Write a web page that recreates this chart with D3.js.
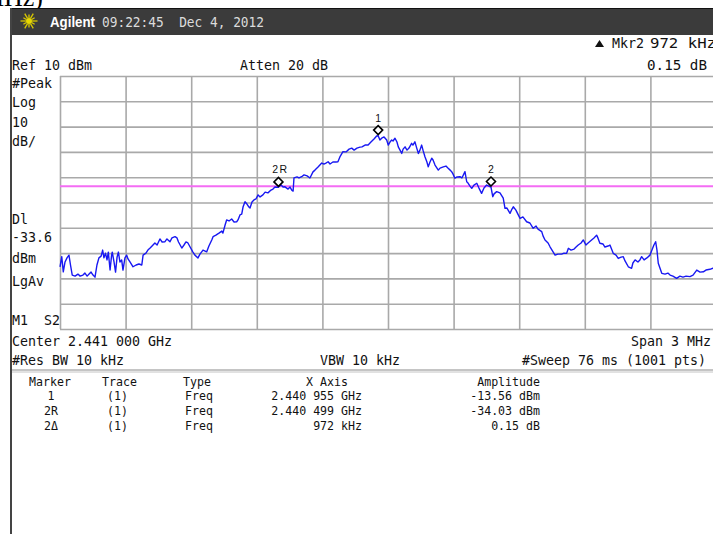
<!DOCTYPE html>
<html><head><meta charset="utf-8">
<script src="https://cdn.jsdelivr.net/npm/d3@7"></script>
<style>
html,body{margin:0;padding:0;background:#fff;overflow:hidden}
svg{display:block}
text{font-family:"DejaVu Sans Mono",monospace;white-space:pre}
</style></head><body>
<svg id="c" width="713" height="534"></svg>
<script>
// ---- data (frequency offset from centre in kHz, amplitude in dBm) ----
const centerGHz = 2.441, spanKHz = 3000, refLevel = 10, dbPerDiv = 10, displayLine = -33.6;
const traceFreq = [-1500,-1492,-1485,-1477,-1468,-1459,-1452,-1444,-1431,-1418,-1408,-1395,-1386,-1376,-1367,-1358,-1349,-1340,-1331,-1322,-1312,-1305,-1299,-1292,-1285,-1279,-1271,-1264,-1261,-1253,-1246,-1239,-1233,-1226,-1218,-1212,-1203,-1195,-1189,-1180,-1166,-1152,-1139,-1126,-1120,-1107,-1098,-1088,-1079,-1066,-1056,-1043,-1033,-1020,-1011,-997,-988,-974,-965,-958,-943,-933,-924,-915,-905,-892,-883,-869,-860,-846,
-829,-819,-806,-800,-787,-773,-760,-755,-745,-738,-727,-715,-704,-692,-686,-677,-669,-663,-654,-645,-636,-631,-622,-613,-604,-594,-585,-572,-562,-549,-535,-526,-517,-503,-489,-480,-471,-457,-448,-440,-434,-430,-416,-407,-395,-384,-370,-357,-343,-334,-320,-303,-293,-284,-274,-265,-252,-238,-229,-220,-206,-192,-178,-166,-155,-142,-128,-119,-105,-91,-78,-64,-52,-45,
-37,-29,-18,-6,1,9,17,23,32,41,47,55,63,69,78,87,96,108,114,123,130,139,146,154,160,169,178,184,192,200,206,215,224,230,238,253,265,274,284,291,297,306,316,329,338,352,360,366,375,383,393,406,416,428,439,451,471,479,485,497,512,527,535,544,558,567,573,585,594,604,617,634,649,664,677,686,703,709,718,732,741,750,764,777,794,805,817,825,837,851,860,870,883,893,905,915,931,942,954,960,969,983,992,1006,1015,1030,1043,1053,1066,1076,1084,1099,1114,1120,1130,1143,1152,1160,1171,1184,1198,1207,1216,1224,1230,1236,1252,1267,1280,1290,1303,1320,1335,1349,1363,1381,1395,1412,1427,1442,1454,1472,1486,1500];
const traceDbm = [-65.4,-61.4,-67.4,-63.5,-61.9,-60.8,-64.7,-68.7,-69.1,-68.3,-69.1,-68.7,-67.9,-69.1,-68.3,-67.5,-68.7,-69.5,-64.7,-61.9,-61.2,-58.8,-61.9,-60.0,-62.7,-59.6,-66.7,-60.8,-59.6,-63.5,-67.5,-61.6,-59.6,-63.5,-62.7,-66.7,-61.9,-60.8,-62.3,-63.5,-65.4,-64.7,-64.3,-64.7,-60.8,-60.0,-58.8,-58.0,-57.2,-56.0,-56.8,-54.4,-55.6,-55.5,-54.4,-55.5,-54.0,-53.5,-54.0,-55.6,-58.0,-56.8,-55.6,-56.0,-57.6,-59.6,-60.8,-61.9,-60.4,-58.8,
-59.5,-57.2,-54.8,-53.5,-52.9,-52.1,-51.3,-52.1,-48.9,-46.9,-47.3,-46.5,-47.7,-47.6,-46.9,-44.9,-44.6,-41.8,-39.7,-40.6,-41.8,-42.2,-39.8,-39.0,-38.6,-37.0,-37.8,-37.0,-35.9,-36.2,-35.1,-34.7,-33.9,-34.0,-33.1,-33.9,-33.8,-34.7,-33.9,-35.1,-35.5,-30.3,-29.9,-30.3,-29.8,-29.1,-29.5,-30.3,-27.9,-27.2,-26.0,-24.4,-24.8,-24.4,-23.9,-24.8,-24.0,-24.0,-23.9,-22.0,-19.9,-20.0,-18.9,-18.5,-19.3,-18.5,-18.1,-18.0,-17.3,-17.3,-16.1,-14.9,-13.7,-13.6,
-15.3,-14.6,-14.1,-15.3,-17.3,-16.1,-15.3,-15.7,-14.6,-16.1,-18.0,-19.3,-20.6,-18.9,-18.0,-19.3,-18.5,-16.6,-17.3,-16.0,-18.1,-20.6,-19.3,-17.3,-19.3,-21.9,-24.0,-25.9,-24.0,-22.5,-23.2,-25.2,-26.4,-27.2,-26.4,-25.9,-25.6,-26.4,-27.2,-27.8,-28.7,-30.4,-29.9,-29.8,-30.3,-27.8,-31.8,-32.3,-33.5,-34.4,-33.1,-32.4,-34.3,-36.4,-34.3,-33.1,-33.9,-37.7,-36.6,-35.7,-36.2,-38.3,-42.3,-42.2,-44.3,-42.6,-41.7,-43.0,-44.6,-46.3,-45.7,-47.6,-48.1,-50.2,-49.3,-50.5,-51.5,-53.2,-54.8,-56.0,-57.5,-58.8,-60.8,-60.4,-60.4,-60.0,-60.1,-58.1,-58.8,-58.4,-57.6,-56.8,-56.0,-54.8,-56.8,-56.0,-54.8,-54.0,-52.9,-54.0,-56.1,-56.4,-57.6,-57.2,-56.8,-60.1,-60.8,-62.1,-61.6,-61.4,-63.1,-65.4,-66.0,-63.9,-62.7,-63.5,-62.7,-61.4,-62.7,-61.9,-60.8,-58.8,-56.8,-55.5,-58.8,-64.0,-68.0,-68.3,-67.9,-68.7,-69.1,-70.0,-69.1,-69.5,-69.1,-69.3,-68.7,-66.7,-67.5,-67.4,-66.7,-66.4,-66.0,-65.9];
const markerNames = ["1","2R","2"];
const markerFreq = [-45,-501,471];
const markerDbm = [-13.56,-34.03,-33.88];
const leftLabels = ["#Peak","Log","10","dB/","Dl","-33.6","dBm","LgAv","M1  S2"];
const tableHeader = ["Marker","Trace","Type","X Axis","Amplitude"];
const tableRows = [
  ["1","(1)","Freq","2.440 955 GHz","-13.56 dBm"],
  ["2R","(1)","Freq","2.440 499 GHz","-34.03 dBm"],
  ["2\u0394","(1)","Freq","972 kHz","0.15 dB"]
];

const svg = d3.select("#c");
const x = d3.scaleLinear().domain([-spanKHz/2, spanKHz/2]).range([60, 716]);
const y = d3.scaleLinear().domain([refLevel - 10*dbPerDiv, refLevel]).range([329, 76]);

// caption fragment at very top (clipped in the original too)
svg.append("text").attr("x", 43).attr("y", 6).attr("text-anchor","end")
  .style("font-family","'Liberation Serif',serif").style("font-size","26px").text("(MHz)");

// header bar
svg.append("rect").attr("x",10).attr("y",8).attr("width",720).attr("height",27).attr("fill","#3b3b3b");
svg.append("line").attr("x1",10).attr("x2",713).attr("y1",8.5).attr("y2",8.5).attr("stroke","#111").attr("stroke-width",1);
// left frame line
svg.append("line").attr("x1",11).attr("x2",11).attr("y1",8).attr("y2",534).attr("stroke","#444").attr("stroke-width",2);
// star icon
const star = svg.append("g").attr("transform","translate(29,21)");
d3.range(12).forEach(i=>{
  const a = i*Math.PI/6, r1 = 3, r2 = (i%2? 6.5 : 8.5);
  star.append("line").attr("x1",r1*Math.cos(a)).attr("y1",r1*Math.sin(a))
    .attr("x2",r2*Math.cos(a)).attr("y2",r2*Math.sin(a)).attr("stroke","#d8c800").attr("stroke-width",1.3);
});
star.append("circle").attr("r",3).attr("fill","#e8d800");
svg.append("text").attr("x",50).attr("y",27).attr("fill","#fff")
  .style("font-family","'Liberation Sans',Arial,sans-serif").style("font-weight","bold").style("font-size","15px")
  .attr("textLength",45).attr("lengthAdjust","spacingAndGlyphs").text("Agilent");
svg.append("text").attr("x",102).attr("y",27).attr("fill","#dcdcdc").style("font-size","14px")
  .attr("textLength",162).attr("lengthAdjust","spacingAndGlyphs").text("09:22:45  Dec 4, 2012");

const fs = "13.3px";
function t(xx, yy, s, anchor, size){ return svg.append("text").attr("x",xx).attr("y",yy).attr("text-anchor",anchor||"start").style("font-size",size||fs).attr("fill","#111").text(s); }

// top info
svg.append("path").attr("d","M595,47 L599.5,40 L604,47 Z").attr("fill","#111");
t(612,48,"Mkr2");
t(650,48,"972 kHz").attr("textLength",66).attr("lengthAdjust","spacingAndGlyphs");
t(647,70,"0.15 dB").attr("textLength",60).attr("lengthAdjust","spacingAndGlyphs");
t(12,70,"Ref 10 dBm");
t(240,70,"Atten 20 dB");

// left labels
const leftY = [88,107,127,146,224,242,263,286,325];
leftLabels.forEach((s,i)=>t(12,leftY[i],s));

// grid
const gx = svg.append("g").attr("transform","translate(0,329)")
  .call(d3.axisBottom(x).tickValues(d3.range(-1500,1501,300)).tickSize(-253).tickFormat(""));
const gy = svg.append("g").attr("transform","translate(60,0)")
  .call(d3.axisLeft(y).tickValues(d3.range(-90,11,10)).tickSize(-660).tickFormat(""));
[gx,gy].forEach(g=>{ g.select(".domain").remove(); g.selectAll("line").attr("stroke","#a9a9a9").attr("stroke-width",1.6); });

// display line
svg.append("line").attr("x1",60).attr("x2",716).attr("y1",y(displayLine)).attr("y2",y(displayLine))
  .attr("stroke","#f46cf4").attr("stroke-width",2);

// trace
const pts = traceFreq.map((f,i)=>[f,traceDbm[i]]);
svg.append("path").datum(pts)
  .attr("d", d3.line().x(d=>x(d[0])).y(d=>y(d[1])))
  .attr("fill","none").attr("stroke","#1818f2").attr("stroke-width",1.4).attr("stroke-linejoin","round");

// markers
markerNames.forEach((m,i)=>{
  const mx = x(markerFreq[i]), my = y(markerDbm[i]);
  svg.append("path").attr("d",`M${mx},${my-1} L${mx+4.5},${my-5.5} L${mx},${my-10} L${mx-4.5},${my-5.5} Z`)
    .attr("fill","#fff").attr("stroke","#000").attr("stroke-width",1.6);
  svg.append("text").attr("x",mx + (m==="2R"?2:0)).attr("y",my-14).attr("text-anchor","middle")
    .style("font-family","'Liberation Sans',Arial,sans-serif").style("font-size","10.5px").attr("fill","#111")
    .attr("letter-spacing", m==="2R"?"1.5px":"0").text(m);
});

// bottom info
t(12,346,"Center 2.441 000 GHz");
t(711,346,"Span 3 MHz","end");
t(12,365,"#Res BW 10 kHz");
t(320,365,"VBW 10 kHz");
t(706,365,"#Sweep 76 ms (1001 pts)","end");
svg.append("line").attr("x1",12).attr("x2",713).attr("y1",370).attr("y2",370).attr("stroke","#8a8a8a").attr("stroke-width",1);
svg.append("line").attr("x1",12).attr("x2",713).attr("y1",372).attr("y2",372).attr("stroke","#c4c4c4").attr("stroke-width",1);

// table
const ts = "11.6px";
const tableY = [385.5,400,415,430];
const colX = [29,102,183,306,540];
tableHeader.forEach((s,i)=>t(colX[i],tableY[0],s,i===4?"end":"start",ts));
const rowColX = [[51,"middle"],[107,"start"],[185,"start"],[362,"end"],[540,"end"]];
tableRows.forEach((r,j)=>{
  r.forEach((s,i)=>{
    let xx = rowColX[i][0], an = rowColX[i][1];
    if(i===0 && s!=="1"){ xx = 44; an = "start"; }
    t(xx,tableY[j+1],s,an,ts);
  });
});
</script></body></html>
